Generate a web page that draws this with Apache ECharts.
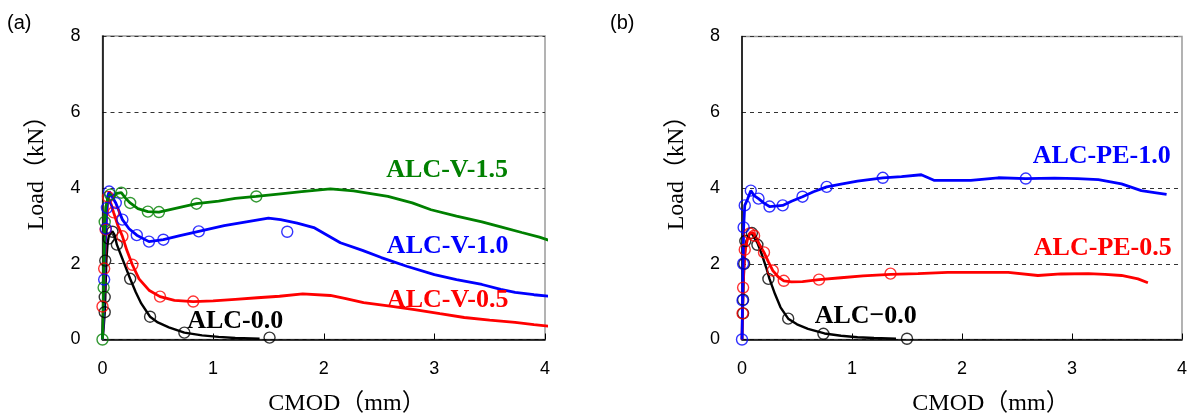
<!DOCTYPE html>
<html><head><meta charset="utf-8">
<script src="https://cdn.jsdelivr.net/npm/echarts@6/dist/echarts.min.js"></script>
<style>html,body{margin:0;padding:0;background:#fff}#c{width:1190px;height:419px}</style>
</head><body><div id="c"></div>
<script>
// ---------- tick values ----------
const xTickValues = [0, 1, 2, 3, 4];
const yTickValues = [0, 2, 4, 6, 8];

// ---------- panel (a) : curves [CMOD mm, Load kN] ----------
const a_ALC00_curve = [[0,0],[0.01,0.3],[0.02,0.7],[0.025,1.1],[0.03,1.6],[0.035,2.1],[0.045,2.5],[0.055,2.7],[0.07,2.8],[0.09,2.85],[0.11,2.75],[0.13,2.5],[0.17,2.2],[0.21,1.9],[0.25,1.6],[0.3,1.25],[0.35,0.95],[0.43,0.6],[0.5,0.45],[0.6,0.32],[0.74,0.18],[0.9,0.11],[1.05,0.07],[1.2,0.04],[1.42,0.02]];
const a_ALC00_marks = [[0.02,0.72],[0.02,1.12],[0.025,2.08],[0.055,2.66],[0.09,2.84],[0.13,2.5],[0.25,1.6],[0.43,0.6],[0.74,0.18],[1.51,0.05]];

const a_V05_curve = [[0,0],[0.005,0.5],[0.01,0.9],[0.015,1.4],[0.02,1.87],[0.025,2.4],[0.03,2.9],[0.04,3.4],[0.05,3.76],[0.06,3.8],[0.08,3.55],[0.1,3.35],[0.14,3.0],[0.18,2.72],[0.22,2.35],[0.27,1.97],[0.33,1.6],[0.42,1.3],[0.52,1.13],[0.65,1.03],[0.82,1.0],[1.0,1.02],[1.2,1.06],[1.4,1.1],[1.6,1.14],[1.81,1.2],[2.06,1.16],[2.2,1.08],[2.36,0.97],[2.6,0.88],[2.82,0.79],[3.05,0.68],[3.27,0.58],[3.5,0.51],[3.73,0.45],[3.9,0.39],[4.07,0.34]];
const a_V05_marks = [[0,0.87],[0.015,1.87],[0.028,2.9],[0.05,3.76],[0.1,3.35],[0.18,2.72],[0.27,1.97],[0.52,1.13],[0.82,1.0]];

const a_V10_curve = [[0,0],[0.01,0.8],[0.015,1.58],[0.02,2.3],[0.03,2.92],[0.04,3.47],[0.05,3.8],[0.06,3.9],[0.08,3.8],[0.12,3.6],[0.18,3.16],[0.24,2.92],[0.31,2.75],[0.42,2.58],[0.55,2.63],[0.7,2.74],[0.87,2.85],[1.1,3.0],[1.3,3.1],[1.5,3.2],[1.61,3.16],[1.76,3.07],[1.91,2.95],[2.15,2.55],[2.35,2.35],[2.52,2.16],[2.75,1.93],[3.0,1.71],[3.2,1.58],[3.43,1.45],[3.6,1.32],[3.73,1.24],[3.9,1.18],[4.07,1.13]];
const a_V10_marks = [[0.015,1.58],[0.03,2.92],[0.04,3.47],[0.06,3.9],[0.12,3.6],[0.18,3.16],[0.31,2.75],[0.42,2.58],[0.55,2.63],[0.87,2.85],[1.67,2.84]];

const a_V15_curve = [[0,0],[0.005,0.7],[0.01,1.37],[0.015,2.2],[0.02,3.1],[0.03,3.5],[0.05,3.75],[0.07,3.82],[0.1,3.78],[0.13,3.85],[0.17,3.87],[0.21,3.72],[0.25,3.6],[0.32,3.45],[0.41,3.37],[0.51,3.36],[0.65,3.45],[0.85,3.58],[1.05,3.65],[1.2,3.72],[1.39,3.77],[1.61,3.84],[1.8,3.9],[2.06,3.97],[2.27,3.92],[2.58,3.77],[2.8,3.6],[2.97,3.42],[3.2,3.25],[3.43,3.1],[3.6,2.97],[3.79,2.82],[3.95,2.7],[4.07,2.58]];
const a_V15_marks = [[0,0],[0.01,1.37],[0.02,3.1],[0.07,3.82],[0.17,3.87],[0.25,3.6],[0.41,3.37],[0.51,3.36],[0.85,3.58],[1.39,3.77]];

// ---------- panel (b) ----------
const b_ALC00_curve = [[0,0],[0.005,0.69],[0.01,1.05],[0.015,1.6],[0.02,2.05],[0.03,2.4],[0.04,2.6],[0.06,2.75],[0.08,2.82],[0.1,2.75],[0.14,2.55],[0.18,2.25],[0.22,1.9],[0.25,1.6],[0.3,1.2],[0.35,0.85],[0.42,0.55],[0.5,0.4],[0.6,0.28],[0.75,0.16],[0.9,0.1],[1.05,0.06],[1.2,0.04],[1.4,0.02]];
const b_ALC00_marks = [[0.01,0.69],[0.01,1.05],[0.02,2.0],[0.03,2.6],[0.09,2.81],[0.14,2.5],[0.24,1.6],[0.42,0.55],[0.74,0.15],[1.5,0.02]];

const b_PE05_curve = [[0,0],[0.005,0.69],[0.01,1.37],[0.02,2.0],[0.03,2.37],[0.05,2.65],[0.07,2.8],[0.1,2.82],[0.12,2.74],[0.16,2.5],[0.2,2.3],[0.24,2.05],[0.28,1.82],[0.33,1.65],[0.38,1.55],[0.45,1.52],[0.55,1.53],[0.7,1.58],[0.9,1.63],[1.1,1.68],[1.35,1.72],[1.6,1.74],[1.87,1.77],[2.1,1.77],[2.42,1.77],[2.69,1.69],[2.9,1.73],[3.15,1.74],[3.3,1.72],[3.45,1.69],[3.6,1.6],[3.69,1.5]];
const b_PE05_marks = [[0.005,0.69],[0.01,1.37],[0.025,2.37],[0.07,2.8],[0.11,2.74],[0.2,2.3],[0.28,1.82],[0.38,1.55],[0.7,1.58],[1.35,1.74]];

const b_PE10_curve = [[0,0],[0.005,1.03],[0.01,2.0],[0.015,2.96],[0.025,3.54],[0.05,3.7],[0.08,3.93],[0.11,3.8],[0.15,3.72],[0.2,3.6],[0.25,3.51],[0.37,3.54],[0.45,3.65],[0.55,3.77],[0.65,3.9],[0.77,4.03],[0.9,4.1],[1.05,4.18],[1.28,4.27],[1.45,4.3],[1.63,4.35],[1.75,4.2],[1.9,4.2],[2.08,4.2],[2.33,4.27],[2.58,4.25],[2.84,4.26],[3.05,4.25],[3.24,4.22],[3.45,4.11],[3.63,3.93],[3.75,3.88],[3.86,3.83]];
const b_PE10_marks = [[0,0],[0.005,1.03],[0.01,2.0],[0.015,2.96],[0.025,3.54],[0.08,3.93],[0.15,3.72],[0.25,3.51],[0.37,3.54],[0.55,3.77],[0.77,4.03],[1.28,4.27],[2.58,4.25]];

// ---------- series names ----------
const names = {
  a: ['ALC-0.0', 'ALC-V-0.5', 'ALC-V-1.0', 'ALC-V-1.5'],
  b: ['ALC\u22120.0', 'ALC-PE-0.5', 'ALC-PE-1.0']
};

const BLACK = '#000000', RED = '#ff0000', BLUE = '#0000ff', GREEN = '#008000';
const labelFont = { fontFamily: '"Liberation Serif","Times New Roman",serif', fontWeight: 'bold', fontSize: 26 };

function curveSeries(gi, name, data, color, width, labelCoord) {
  const s = {
    type: 'line', name: name, xAxisIndex: gi, yAxisIndex: gi, data: data,
    showSymbol: false, symbol: 'none', clip: false, smooth: false,
    lineStyle: { color: color, width: width }, itemStyle: { color: color },
    animation: false, z: 3
  };
  if (labelCoord) {
    s.markPoint = {
      symbol: 'circle', symbolSize: 0, silent: true, animation: false,
      data: [{ coord: labelCoord, label: { show: true, position: 'inside', formatter: name, color: color, ...labelFont } }]
    };
  }
  return s;
}
function markSeries(gi, name, data, color) {
  return {
    type: 'scatter', name: name + ' marks', xAxisIndex: gi, yAxisIndex: gi, data: data,
    symbol: 'circle', symbolSize: 11, clip: false,
    itemStyle: { color: 'rgba(0,0,0,0)', borderColor: color, borderWidth: 1.4 },
    animation: false, z: 4
  };
}

function xAxisCfg(gi) {
  return {
    gridIndex: gi, type: 'value', min: 0, max: 4, interval: 1,
    axisLine: { show: true, onZero: false, lineStyle: { color: '#000', width: 1.5 } },
    axisTick: { show: true, inside: true, length: 6, lineStyle: { color: '#000', width: 1 } },
    axisLabel: { color: '#000', fontFamily: '"Liberation Sans",Arial,sans-serif', fontSize: 18, margin: 21,
      customValues: xTickValues },
    splitLine: { show: false }
  };
}
function yAxisCfg(gi) {
  return {
    gridIndex: gi, type: 'value', min: 0, max: 8, interval: 2,
    axisLine: { show: true, onZero: false, lineStyle: { color: '#000', width: 1.5 } },
    axisTick: { show: false },
    axisLabel: { color: '#000', fontFamily: '"Liberation Sans",Arial,sans-serif', fontSize: 18, margin: 22 },
    splitLine: { show: true, lineStyle: { color: '#333', width: 1, type: [4, 4] } }
  };
}

const titleFont = '24px "Liberation Serif","Times New Roman","Noto Sans CJK JP",serif';

const option = {
  backgroundColor: '#fff',
  animation: false,
  grid: [
    { left: 102.5, top: 36, width: 442.5, height: 303.5, show: true, borderColor: '#9a9a9a', borderWidth: 1.5, backgroundColor: 'transparent' },
    { left: 742, top: 36.5, width: 441, height: 303, show: true, borderColor: '#9a9a9a', borderWidth: 1.5, backgroundColor: 'transparent' }
  ],
  xAxis: [xAxisCfg(0), xAxisCfg(1)],
  yAxis: [yAxisCfg(0), yAxisCfg(1)],
  series: [
    curveSeries(0, names.a[0], a_ALC00_curve, BLACK, 2.4, [1.2, 0.49]),
    markSeries(0, names.a[0], a_ALC00_marks, BLACK),
    curveSeries(0, names.a[1], a_V05_curve, RED, 2.8, [3.12, 1.04]),
    markSeries(0, names.a[1], a_V05_marks, RED),
    curveSeries(0, names.a[2], a_V10_curve, BLUE, 2.8, [3.12, 2.45]),
    markSeries(0, names.a[2], a_V10_marks, BLUE),
    curveSeries(0, names.a[3], a_V15_curve, GREEN, 2.8, [3.115, 4.47]),
    markSeries(0, names.a[3], a_V15_marks, GREEN),

    curveSeries(1, names.b[0], b_ALC00_curve, BLACK, 2.4, [1.125, 0.62]),
    markSeries(1, names.b[0], b_ALC00_marks, BLACK),
    curveSeries(1, names.b[1], b_PE05_curve, RED, 2.8, [3.28, 2.4]),
    markSeries(1, names.b[1], b_PE05_marks, RED),
    curveSeries(1, names.b[2], b_PE10_curve, BLUE, 2.8, [3.27, 4.84]),
    markSeries(1, names.b[2], b_PE10_marks, BLUE)
  ],
  graphic: [
    { type: 'text', x: 7, y: 23, style: { text: '(a)', font: '20px "Liberation Sans",Arial,sans-serif', fill: '#000', textAlign: 'left', textVerticalAlign: 'middle' } },
    { type: 'text', x: 610, y: 23, style: { text: '(b)', font: '20px "Liberation Sans",Arial,sans-serif', fill: '#000', textAlign: 'left', textVerticalAlign: 'middle' } },
    { type: 'text', x: 37, y: 167, rotation: Math.PI / 2, style: { text: 'Load（kN）', font: titleFont, fill: '#000', textAlign: 'center', textVerticalAlign: 'middle' } },
    { type: 'text', x: 677, y: 167, rotation: Math.PI / 2, style: { text: 'Load（kN）', font: titleFont, fill: '#000', textAlign: 'center', textVerticalAlign: 'middle' } },
    { type: 'text', x: 347, y: 404, style: { text: 'CMOD（mm）', font: titleFont, fill: '#000', textAlign: 'center', textVerticalAlign: 'middle' } },
    { type: 'text', x: 991, y: 404, style: { text: 'CMOD（mm）', font: titleFont, fill: '#000', textAlign: 'center', textVerticalAlign: 'middle' } }
  ]
};

const chart = echarts.init(document.getElementById('c'), null, { renderer: 'canvas' });
chart.setOption(option);
</script>
</body></html>
